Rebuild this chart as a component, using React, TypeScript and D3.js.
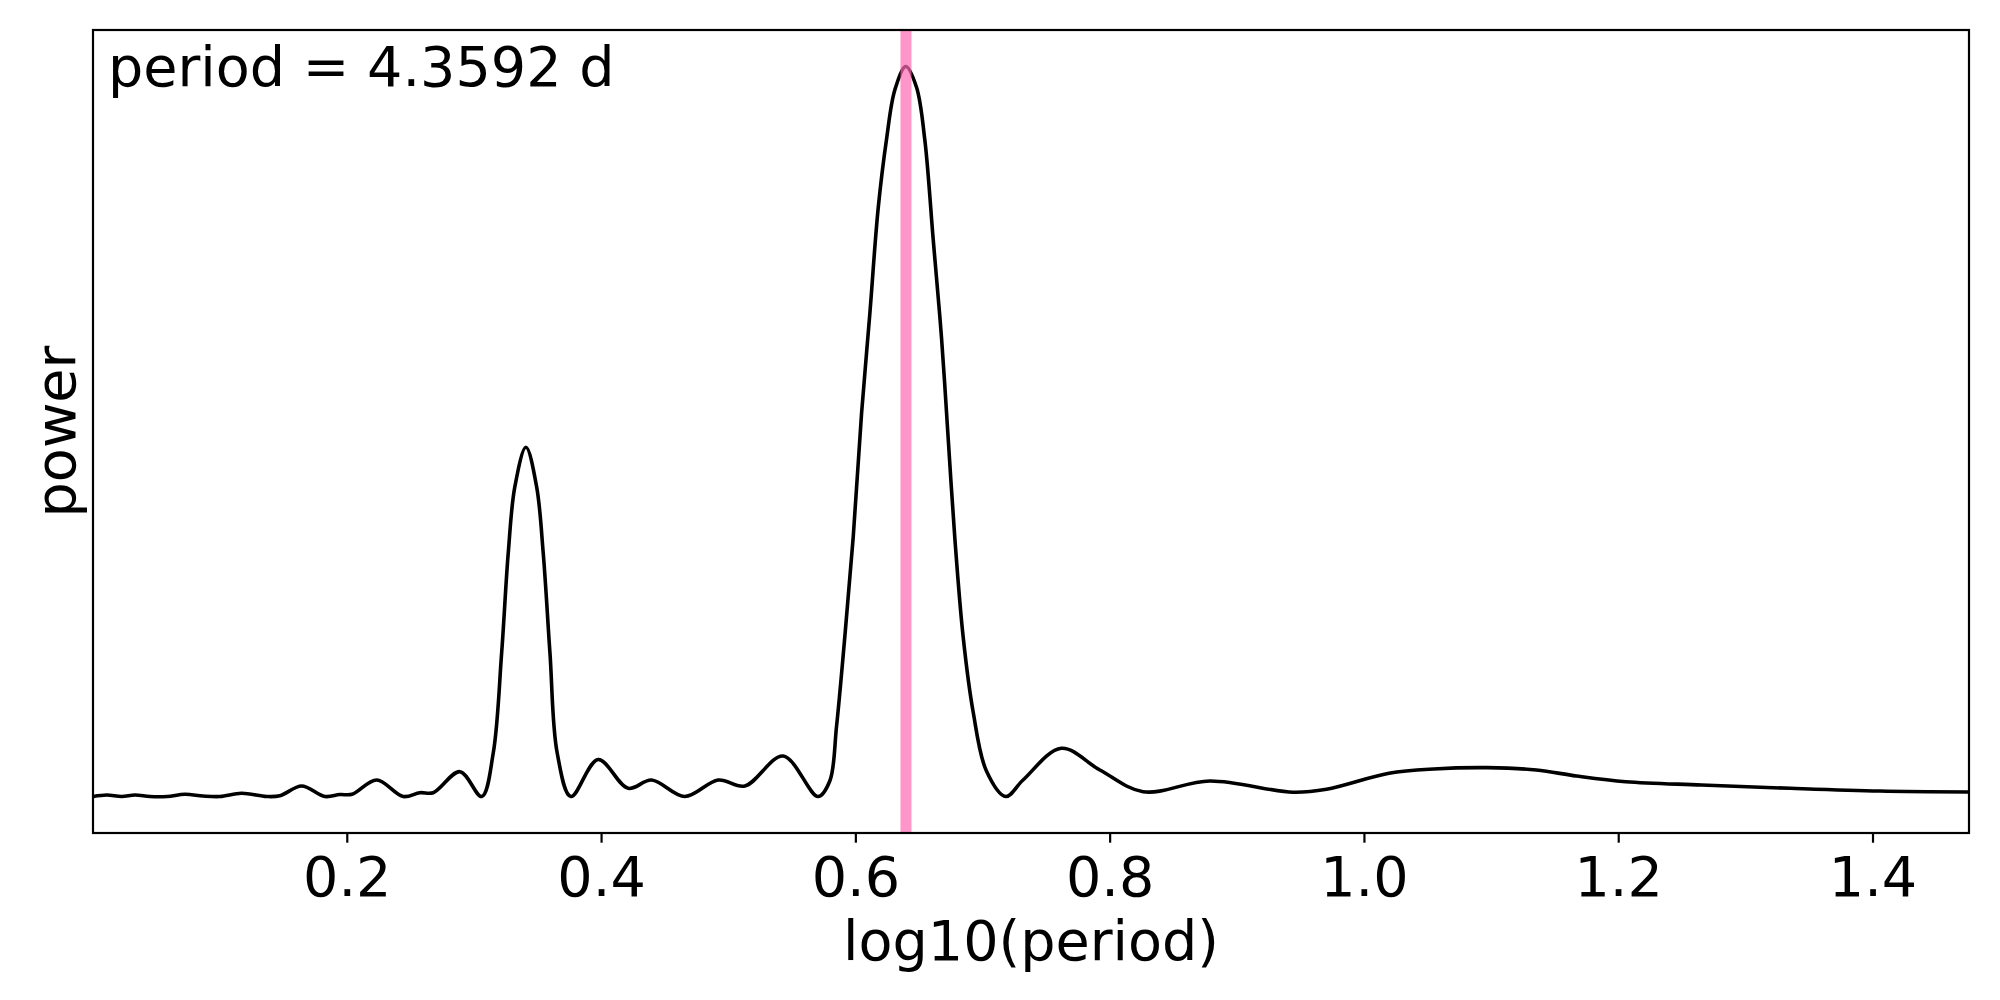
import React from "react";
import * as d3 from "d3";

// log10(period) sample positions
const logPeriod: number[] = [
  0.0, 0.0108, 0.0226, 0.033, 0.0448, 0.0582, 0.0723, 0.0865, 0.0999, 0.1169,
  0.1366, 0.147, 0.1641, 0.1824, 0.1942, 0.2037, 0.2231, 0.244, 0.2571, 0.2676,
  0.2886, 0.3057, 0.3148, 0.3214, 0.3266, 0.3318, 0.3405, 0.3489, 0.3541, 0.3594,
  0.3651, 0.3759, 0.3973, 0.4209, 0.4393, 0.4655, 0.4917, 0.5127, 0.5428, 0.5703,
  0.5795, 0.5848, 0.5913, 0.5979, 0.6045, 0.611, 0.6175, 0.6241, 0.6307, 0.6393,
  0.6477, 0.6542, 0.6608, 0.6674, 0.6726, 0.6778, 0.6844, 0.6922, 0.7027, 0.7179,
  0.7315, 0.7616, 0.7919, 0.8259, 0.8784, 0.9439, 0.9702, 1.0193, 1.0545, 1.0966,
  1.1352, 1.1668, 1.2055, 1.2651, 1.3352, 1.4052, 1.4755,
];

// normalised periodogram power
const power: number[] = [
  0.0, 0.0021, 0.0, 0.0021, 0.0, 0.0, 0.003, 0.0007, 0.0, 0.0044,
  0.0, 0.001, 0.0144, 0.0, 0.0027, 0.003, 0.0226, 0.0, 0.0052, 0.0052,
  0.034, 0.0, 0.0596, 0.1966, 0.3336, 0.4244, 0.4784, 0.4244, 0.3336, 0.1966,
  0.0596, 0.0, 0.0507, 0.0112, 0.0226, 0.0, 0.0226, 0.0144, 0.0555, 0.0,
  0.0212, 0.096, 0.2185, 0.3549, 0.5253, 0.6615, 0.8048, 0.9, 0.9682, 1.0,
  0.9715, 0.9, 0.7637, 0.6275, 0.4911, 0.3549, 0.2185, 0.1164, 0.0349, 0.0,
  0.0226, 0.066, 0.0363, 0.0066, 0.0212, 0.0058, 0.0099, 0.0318, 0.0377, 0.0395,
  0.0363, 0.0281, 0.0203, 0.0158, 0.0112, 0.0075, 0.0062,
];

const xTicks: number[] = [0.2, 0.4, 0.6, 0.8, 1.0, 1.2, 1.4];
const bestPeriod = 4.3592;
const annotation = `period = ${bestPeriod.toFixed(4)} d`;
const xLabel = "log10(period)";
const yLabel = "power";

export default function App() {
  const W = 2000;
  const H = 1000;
  const left = 93;
  const right = 1969;
  const top = 30;
  const bottom = 833;
  const font = "'DejaVu Sans', sans-serif";
  const fs = 55.6;

  const x = d3.scaleLinear().domain([0, 1.4755]).range([left, right]);
  const y = d3.scaleLinear().domain([-0.05, 1.05]).range([bottom, top]);

  const data = logPeriod.map((v, i) => [v, power[i]] as [number, number]);
  const line = d3
    .line<[number, number]>()
    .x((d) => x(d[0]))
    .y((d) => y(d[1]))
    .curve(d3.curveCatmullRom.alpha(0.5));

  const bx = x(Math.log10(bestPeriod));

  return (
    <svg
      width={W}
      height={H}
      style={{ position: "absolute", left: 0, top: 0, background: "#fff" }}
      fontFamily={font}
    >
      <rect x={0} y={0} width={W} height={H} fill="#fff" />
      <defs>
        <clipPath id="plotclip">
          <rect x={left} y={top} width={right - left} height={bottom - top} />
        </clipPath>
      </defs>
      <g clipPath="url(#plotclip)">
        <path d={line(data) || ""} fill="none" stroke="#000" strokeWidth={3.6} strokeLinejoin="round" />
        <line x1={bx} x2={bx} y1={top} y2={bottom} stroke="hotpink" strokeOpacity={0.7} strokeWidth={11} />
      </g>
      <rect
        x={left}
        y={top}
        width={right - left}
        height={bottom - top}
        fill="none"
        stroke="#000"
        strokeWidth={2.2}
      />
      {xTicks.map((t) => (
        <g key={t}>
          <line x1={x(t)} x2={x(t)} y1={bottom} y2={bottom + 9.7} stroke="#000" strokeWidth={2.2} />
          <text x={x(t)} y={896} fontSize={fs} textAnchor="middle" fill="#000">
            {t.toFixed(1)}
          </text>
        </g>
      ))}
      <text x={(left + right) / 2} y={960} fontSize={fs} textAnchor="middle" fill="#000">
        {xLabel}
      </text>
      <text
        transform={`translate(75, ${(top + bottom) / 2}) rotate(-90)`}
        fontSize={fs}
        textAnchor="middle"
        fill="#000"
      >
        {yLabel}
      </text>
      <text x={108} y={86} fontSize={fs} fill="#000">
        {annotation}
      </text>
    </svg>
  );
}
